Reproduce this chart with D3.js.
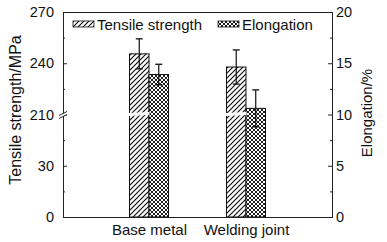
<html>
<head>
<meta charset="utf-8">
<style>
  body { margin: 0; background: #fff; }
  text { font-family: "Liberation Sans", Arial, sans-serif; fill: #111; }
</style>
</head>
<body>
<svg width="387" height="242"></svg>
<script src="https://d3js.org/d3.v7.min.js"></script>
<script>
var categories = ["Base metal", "Welding joint"]
var tensile = [245.5, 237.8]       // MPa
var tensileErr = [8.8, 10]
var elongation = [13.9, 10.6]      // %
var elongationErr = [1.0, 1.8]
var leftTicks = [0, 30, 210, 240, 270]
var leftMinor = [15, 45, 225, 255]
var rightTicks = [0, 5, 10, 15, 20]
var rightMinor = [2.5, 7.5, 12.5, 17.5]
var seriesNames = ["Tensile strength", "Elongation"]

var svg = d3.select("svg")
var plotL = 63, plotR = 332, plotT = 12, plotB = 217
var breakY = 114.5

// broken left axis: 0-60 below the break, 210-270 above
var yL = d3.scaleLinear().domain([0, 60, 210, 270]).range([plotB, breakY, breakY, plotT])
var yR = d3.scaleLinear().domain([0, 20]).range([plotB, plotT])
var x0 = d3.scalePoint().domain(categories).range([plotL, plotR]).padding(0.887)
var x1 = d3.scaleBand().domain(seriesNames).range([-19.5, 19.5])

// patterns
var defs = svg.append("defs")
var hatch = defs.append("pattern").attr("id", "hatch").attr("patternUnits", "userSpaceOnUse")
  .attr("width", 5).attr("height", 5)
hatch.append("rect").attr("width", 5).attr("height", 5).attr("fill", "#fff")
hatch.append("path").attr("d", "M-1,1 l2,-2 M0,5 l5,-5 M4,6 l2,-2")
  .attr("stroke", "#111").attr("stroke-width", 1.2)
var cross = defs.append("pattern").attr("id", "cross").attr("patternUnits", "userSpaceOnUse")
  .attr("width", 4).attr("height", 4)
cross.append("rect").attr("width", 4).attr("height", 4).attr("fill", "#fff")
cross.append("path").attr("d", "M-1,1 l2,-2 M0,4 l4,-4 M3,5 l2,-2 M-1,3 l2,2 M0,0 l4,4 M3,-1 l2,2")
  .attr("stroke", "#111").attr("stroke-width", 0.95)

// bars
var g = svg.append("g")
categories.forEach(function (c, i) {
  var xt = x0(c) + x1("Tensile strength")
  var xe = x0(c) + x1("Elongation")
  var bw = x1.bandwidth()
  g.append("rect").attr("x", xt).attr("y", yL(tensile[i]))
    .attr("width", bw).attr("height", plotB - yL(tensile[i]))
    .attr("fill", "url(#hatch)").attr("stroke", "#111").attr("stroke-width", 1)
  g.append("rect").attr("x", xe).attr("y", yR(elongation[i]))
    .attr("width", bw).attr("height", plotB - yR(elongation[i]))
    .attr("fill", "url(#cross)").attr("stroke", "#111").attr("stroke-width", 1)
  // break gap across the tensile bar
  g.append("path")
    .attr("d", "M" + (xt - 1) + "," + (breakY - 1.5) + "L" + (xt + bw + 0.5) + "," + (breakY - 2.5) +
      "L" + (xt + bw + 0.5) + "," + (breakY + 0.5) + "L" + (xt - 1) + "," + (breakY + 1.5) + "Z")
    .attr("fill", "#fff")
  // error bars
  var errs = [
    { x: xt + bw / 2, hi: yL(tensile[i] + tensileErr[i]), lo: yL(tensile[i] - tensileErr[i]) },
    { x: xe + bw / 2, hi: yR(elongation[i] + elongationErr[i]), lo: yR(elongation[i] - elongationErr[i]) }
  ]
  errs.forEach(function (e) {
    g.append("line").attr("x1", e.x).attr("x2", e.x).attr("y1", e.hi).attr("y2", e.lo)
      .attr("stroke", "#111").attr("stroke-width", 1.2)
    ;[e.hi, e.lo].forEach(function (yy) {
      g.append("line").attr("x1", e.x - 3.5).attr("x2", e.x + 3.5).attr("y1", yy).attr("y2", yy)
        .attr("stroke", "#111").attr("stroke-width", 1.3)
    })
  })
})

// frame
svg.append("rect").attr("x", plotL + 0.5).attr("y", plotT + 0.5)
  .attr("width", plotR - plotL).attr("height", plotB - plotT)
  .attr("fill", "none").attr("stroke", "#222").attr("stroke-width", 1)

// axes
function styleAxis(sel) {
  sel.select(".domain").remove()
  sel.selectAll("text").attr("font-size", 14.5).attr("font-family", "Liberation Sans, Arial, sans-serif").attr("fill", "#111")
  sel.selectAll("line").attr("stroke", "#222")
}
svg.append("g").attr("transform", "translate(" + plotL + ",0)")
  .call(d3.axisLeft(yL).tickValues(leftTicks).tickSize(-4).tickPadding(9)).call(styleAxis)
svg.append("g").attr("transform", "translate(" + plotL + ",0)")
  .call(d3.axisLeft(yL).tickValues(leftMinor).tickSize(-2).tickFormat("")).call(styleAxis)
svg.append("g").attr("transform", "translate(" + plotR + ",0)")
  .call(d3.axisRight(yR).tickValues(rightTicks).tickSize(-4).tickPadding(4)).call(styleAxis)
svg.append("g").attr("transform", "translate(" + plotR + ",0)")
  .call(d3.axisRight(yR).tickValues(rightMinor).tickSize(-2).tickFormat("")).call(styleAxis)
svg.append("g").attr("transform", "translate(0," + plotB + ")")
  .call(d3.axisBottom(x0).tickSize(0).tickPadding(7)).call(styleAxis)
  .selectAll("text").attr("font-size", 15)

// axis break mark
svg.append("path").attr("d", "M59," + (breakY + 1) + "L67," + (breakY - 3) + "L67," + (breakY) + "L59," + (breakY + 4) + "Z")
  .attr("fill", "#fff")
svg.append("path").attr("d", "M59," + (breakY + 1) + "L67," + (breakY - 3) + "M59," + (breakY + 4) + "L67," + (breakY))
  .attr("stroke", "#222").attr("stroke-width", 1).attr("fill", "none")

// axis titles
svg.append("text").attr("transform", "translate(21,110) rotate(-90)")
  .attr("text-anchor", "middle").attr("font-size", 16).text("Tensile strength/MPa")
svg.append("text").attr("transform", "translate(372,113) rotate(-90)")
  .attr("text-anchor", "middle").attr("font-size", 15).text("Elongation/%")

// legend
var legend = [
  { name: seriesNames[0], fill: "url(#hatch)", x: 73 },
  { name: seriesNames[1], fill: "url(#cross)", x: 218 }
]
legend.forEach(function (d) {
  svg.append("rect").attr("x", d.x).attr("y", 21).attr("width", 21).attr("height", 6)
    .attr("fill", d.fill).attr("stroke", "#111").attr("stroke-width", 0.8)
  svg.append("text").attr("x", d.x + 24).attr("y", 29.5).attr("font-size", 15).text(d.name)
})
</script>
</body>
</html>
